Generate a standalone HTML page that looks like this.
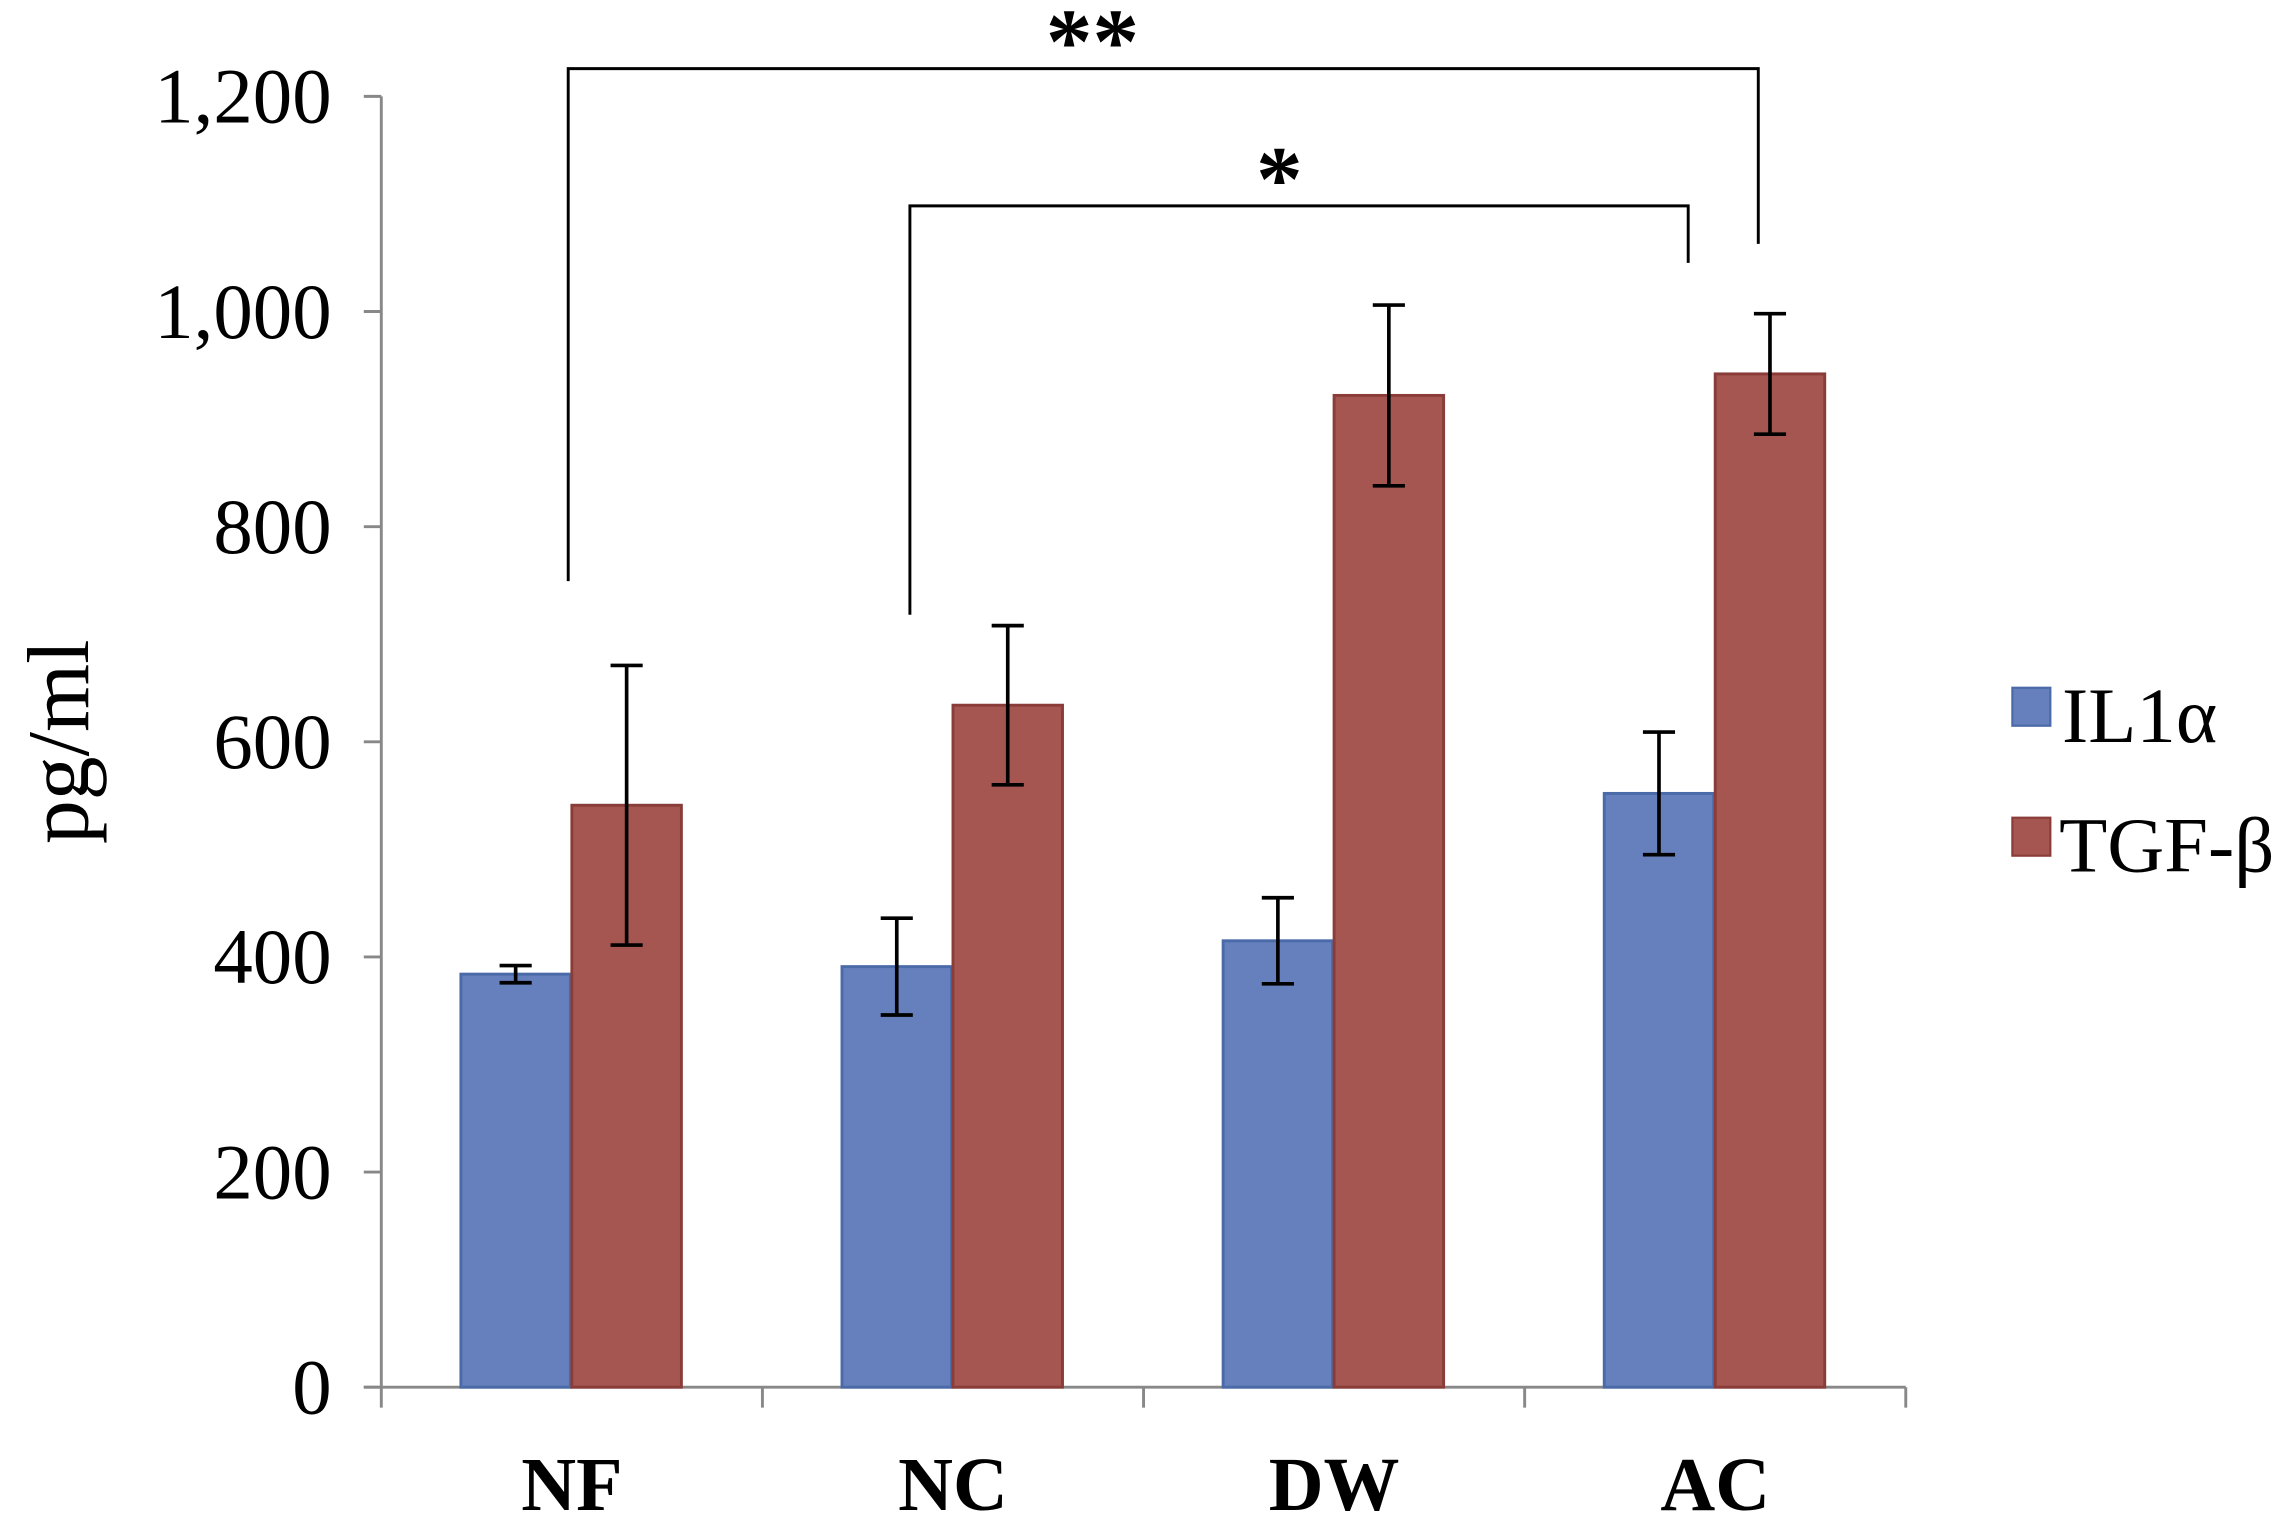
<!DOCTYPE html>
<html><head><meta charset="utf-8"><style>html,body{margin:0;padding:0;background:#fff}svg{display:block}</style></head>
<body>
<svg id="chart" width="2290" height="1523" viewBox="0 0 1568 1043" xmlns="http://www.w3.org/2000/svg" font-family="Liberation Serif, serif">
<g id="axes"></g><g id="bars"></g><g id="annot"></g>
</svg>
<script>
const categories = ["NF","NC","DW","AC"];
const il1a = [384, 391, 415, 552];
const il1aErr = [8, 45, 40, 57];
const tgfb = [541, 634, 922, 942];
const tgfbErr = [130, 74, 84, 56];
const yTicks = [0,200,400,600,800,1000,1200];
const yTickLabels = ["0","200","400","600","800","1,000","1,200"];
const NS="http://www.w3.org/2000/svg";
const x0=261,x1=1305,y0=950,y1200=66;
const y=v=>y0-(v/1200)*(y0-y1200);
const band=(x1-x0)/categories.length;
const cx=i=>x0+band*(i+0.5);
function mk(tag,attrs,parent){const e=document.createElementNS(NS,tag);for(const k in attrs)e.setAttribute(k,attrs[k]);document.getElementById(parent).appendChild(e);return e;}
let e=mk('line',{x1:x0,y1:y(0),x2:x0,y2:y(1200),stroke:'#888','stroke-width':2},'axes');

e=mk('line',{x1:x0-12,y1:y0,x2:x1,y2:y0,stroke:'#888','stroke-width':2},'axes');

yTicks.forEach((t,i)=>{
  let l=mk('line',{x1:x0-12,y1:y(t),x2:x0,y2:y(t),stroke:'#888','stroke-width':2},'axes');
  
  let tx=mk('text',{x:x0-34,y:y(t)+18,'text-anchor':'end','font-size':54},'axes');
  tx.textContent=yTickLabels[i];
  
});
for(let i=0;i<=categories.length;i++){
  let l=mk('line',{x1:x0+band*i,y1:y0,x2:x0+band*i,y2:y0+14,stroke:'#888','stroke-width':2},'axes');
  
}
categories.forEach((c,i)=>{
  let tx=mk('text',{x:cx(i),y:1034,'text-anchor':'middle','font-size':52,'font-weight':'bold'},'axes');
  tx.textContent=c;
  
});
let yt=mk('text',{x:0,y:0,'text-anchor':'middle','font-size':60,transform:'translate(60,508) rotate(-90)'},'axes');
yt.textContent='pg/ml';

const bw=75;
function bar(i,v,err,off,fill,stroke,name){
  let r=mk('rect',{x:cx(i)+off,y:y(v),width:bw,height:y0-y(v),fill:fill,stroke:stroke,'stroke-width':2},'bars');
  
  const mx=cx(i)+off+bw/2;
  let g=mk('path',{d:`M${mx},${y(v+err)}V${y(v-err)}M${mx-11},${y(v+err)}H${mx+11}M${mx-11},${y(v-err)}H${mx+11}`,stroke:'#000','stroke-width':2.5,fill:'none'},'bars');
  
}
categories.forEach((c,i)=>{
  bar(i,il1a[i],il1aErr[i],-bw-1,'#6580bd','#4a6aa8','bar-il1a-'+c.toLowerCase());
  bar(i,tgfb[i],tgfbErr[i],0,'#a55650','#8a3d38','bar-tgfb-'+c.toLowerCase());
});
let b=mk('path',{d:'M389,398V47H1204V167',stroke:'#000','stroke-width':2,fill:'none'},'annot');

let s=mk('text',{x:748,y:50,'text-anchor':'middle','font-size':64,'font-weight':'bold'},'annot');s.textContent='**';

b=mk('path',{d:'M623,421V141H1156V180',stroke:'#000','stroke-width':2,fill:'none'},'annot');

s=mk('text',{x:876,y:144,'text-anchor':'middle','font-size':64,'font-weight':'bold'},'annot');s.textContent='*';

let lr=mk('rect',{x:1378,y:471,width:26,height:26,fill:'#6580bd',stroke:'#4a6aa8','stroke-width':1.5},'annot');

let lt=mk('text',{x:1412,y:508,'font-size':54},'annot');lt.textContent='IL1α';

lr=mk('rect',{x:1378,y:560,width:26,height:26,fill:'#a55650',stroke:'#8a3d38','stroke-width':1.5},'annot');

lt=mk('text',{x:1410,y:597,'font-size':54},'annot');lt.textContent='TGF-β';

</script>
</body></html>
